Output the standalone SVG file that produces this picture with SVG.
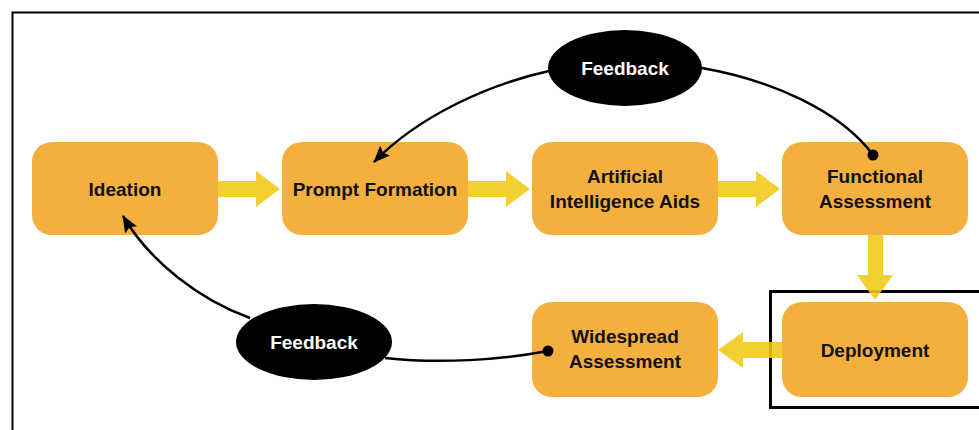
<svg xmlns="http://www.w3.org/2000/svg" width="979" height="430" viewBox="0 0 979 430">
  <defs>
    <style>
      .node { fill: #F3B03F; }
      .label { font-family: "Liberation Sans", Arial, Helvetica, sans-serif; font-weight: bold; font-size: 19px; fill: #111111; text-anchor: middle; }
      .fb { fill: #000000; }
      .fbtext { font-family: "Liberation Sans", Arial, Helvetica, sans-serif; font-weight: bold; font-size: 19px; fill: #FFFFFF; text-anchor: middle; }
      .flow { fill: #F0C915; fill-opacity: 0.88; }
      .link { fill: none; stroke: #000000; stroke-width: 2.5; }
      .frame { fill: none; stroke: #000000; }
    </style>
    <marker id="head" viewBox="0 0 17 14" refX="16" refY="7" markerWidth="17" markerHeight="14" markerUnits="userSpaceOnUse" orient="auto">
      <path d="M0,0 L17,7 L0,14 L3,7 Z" fill="#000000"/>
    </marker>
    <marker id="dot" viewBox="0 0 12 12" refX="6" refY="6" markerWidth="12" markerHeight="12" markerUnits="userSpaceOnUse">
      <circle cx="6" cy="6" r="5.5" fill="#000000"/>
    </marker>
  </defs>

  <rect width="979" height="430" fill="#FFFFFF"/>

  <!-- outer border and highlight box around Deployment -->
  <rect class="frame" x="12.5" y="12.5" width="1000" height="440" stroke-width="2"/>
  <rect class="frame" x="770.5" y="291.5" width="230" height="116" stroke-width="3"/>

  <!-- nodes -->
  <g id="ideation">
    <rect class="node" x="32" y="142" width="186" height="93" rx="20"/>
    <text class="label" x="125" y="196">Ideation</text>
  </g>
  <g id="prompt-formation">
    <rect class="node" x="282" y="142" width="186" height="93" rx="20"/>
    <text class="label" x="375" y="196">Prompt Formation</text>
  </g>
  <g id="ai-aids">
    <rect class="node" x="532" y="142" width="186" height="93" rx="20"/>
    <text class="label" x="625" y="183">Artificial</text>
    <text class="label" x="625" y="208">Intelligence Aids</text>
  </g>
  <g id="functional-assessment">
    <rect class="node" x="782" y="142" width="186" height="93" rx="20"/>
    <text class="label" x="875" y="183">Functional</text>
    <text class="label" x="875" y="208">Assessment</text>
  </g>
  <g id="deployment">
    <rect class="node" x="782" y="302" width="186" height="95" rx="20"/>
    <text class="label" x="875" y="357">Deployment</text>
  </g>
  <g id="widespread-assessment">
    <rect class="node" x="532" y="302" width="186" height="95" rx="20"/>
    <text class="label" x="625" y="343">Widespread</text>
    <text class="label" x="625" y="368">Assessment</text>
  </g>
  <g id="feedback-top">
    <ellipse class="fb" cx="625" cy="68" rx="77" ry="38"/>
    <text class="fbtext" x="625" y="75">Feedback</text>
  </g>
  <g id="feedback-bottom">
    <ellipse class="fb" cx="314" cy="342" rx="78" ry="38"/>
    <text class="fbtext" x="314" y="349">Feedback</text>
  </g>

  <!-- connectors -->
  <g id="connectors">
    <!-- main flow block arrows -->
    <path class="flow" d="M218,181 H256 V171 L280,189 L256,207 V197 H218 Z"/>
    <path class="flow" d="M468,181 H506 V171 L530,189 L506,207 V197 H468 Z"/>
    <path class="flow" d="M718,181 H756 V171 L780,189 L756,207 V197 H718 Z"/>
    <path class="flow" d="M868,235 V275 H857 L875,300 L893,275 H883 V235 Z"/>
    <path class="flow" d="M782,342 H743 V332 L718,350 L743,368 V358 H782 Z"/>

    <!-- feedback loops -->
    <path class="link" d="M549,71 C490,84 420,115 374,162" marker-end="url(#head)"/>
    <path class="link" d="M702,68 C770,80 840,110 873,155" marker-end="url(#dot)"/>
    <path class="link" d="M250,318 C200,300 150,262 123,216" marker-end="url(#head)"/>
    <path class="link" d="M385,358 C440,364 500,360 548,351" marker-end="url(#dot)"/>
  </g>
</svg>
